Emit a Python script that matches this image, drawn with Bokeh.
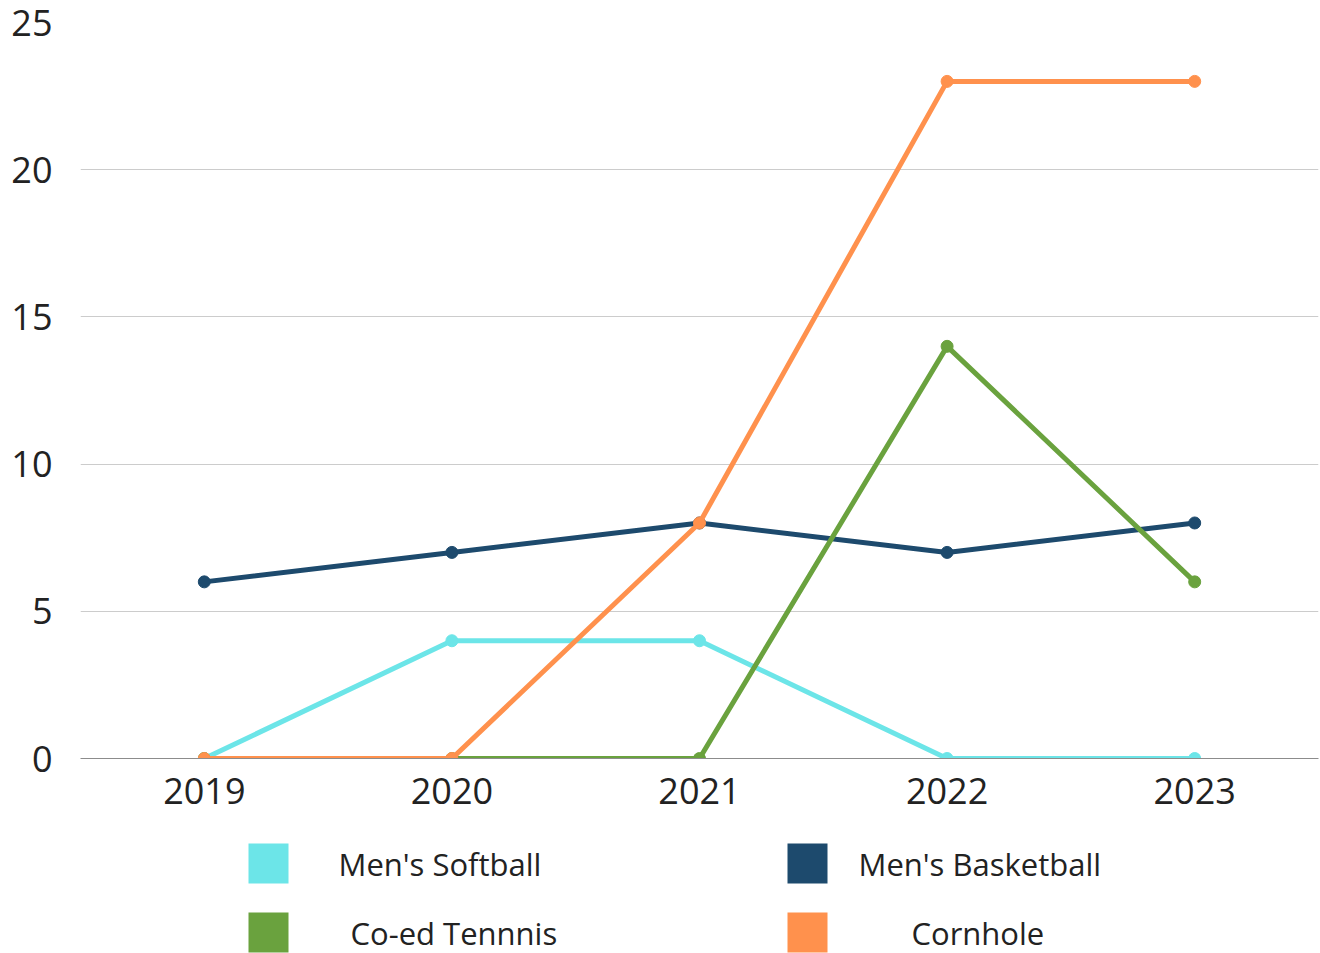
from bokeh.plotting import figure
from bokeh.models import Range1d, FixedTicker
from bokeh.layouts import column
from bokeh.embed import file_html
from bokeh.resources import INLINE
from bokeh.core.properties import value

years = [2019, 2020, 2021, 2022, 2023]
series_names = ["Men's Softball", "Men's Basketball", "Co-ed Tennnis", "Cornhole"]
softball = [0, 4, 4, 0, 0]
basketball = [6, 7, 8, 7, 8]
tennis = [0, 0, 0, 14, 6]
cornhole = [0, 0, 8, 23, 23]
y_ticks = [0, 5, 10, 15, 20, 25]

colors = ["#6CE5E8", "#1D4A6D", "#6AA23E", "#FF914D"]
series = [softball, basketball, tennis, cornhole]

FONT = "Open Sans"

p = figure(width=1320, height=823, output_backend="svg", toolbar_location=None,
           x_range=Range1d(2018.5, 2023.5), y_range=Range1d(0, 25),
           min_border_left=80, min_border_right=2, min_border_top=22, min_border_bottom=65)
p.outline_line_color = None
p.background_fill_color = "white"

for ys, c in zip(series, colors):
    p.line(years, ys, line_color=c, line_width=5)
    p.scatter(years, ys, size=12, fill_color=c, line_color=c)

p.xgrid.grid_line_color = None
p.ygrid.grid_line_color = "#cccccc"
p.ygrid.grid_line_width = 1
p.ygrid.ticker = FixedTicker(ticks=y_ticks)

p.xaxis.ticker = FixedTicker(ticks=years)
p.xaxis.axis_line_color = "#8c8c8c"
p.xaxis.axis_line_width = 1
p.xaxis.major_tick_line_color = None
p.xaxis.minor_tick_line_color = None
p.xaxis.major_label_text_font = FONT
p.xaxis.major_label_text_font_size = "36px"
p.xaxis.major_label_text_color = "#222222"
p.xaxis.major_label_standoff = 13

p.yaxis.ticker = FixedTicker(ticks=y_ticks)
p.yaxis.axis_line_color = None
p.yaxis.major_tick_line_color = None
p.yaxis.minor_tick_line_color = None
p.yaxis.major_label_text_font = FONT
p.yaxis.major_label_text_font_size = "36px"
p.yaxis.major_label_text_color = "#222222"
p.yaxis.major_label_standoff = 22

# Legend panel (coordinates in page pixels; frame aligned with main frame)
leg = figure(width=1320, height=130, output_backend="svg", toolbar_location=None,
             x_range=Range1d(80, 1318), y_range=Range1d(953, 823),
             min_border_left=80, min_border_right=2, min_border_top=0, min_border_bottom=0)
leg.axis.visible = False
leg.grid.visible = False
leg.outline_line_color = None

box_x = [268, 807, 268, 807]
box_y = [863, 863, 932, 932]
text_x = [338, 858, 350, 911]

leg.rect(box_x, box_y, width=40, height=40, fill_color=colors, line_color=None)
leg.text(text_x, box_y, text=series_names, text_font=value(FONT), text_font_size="31px",
         text_align="left", text_baseline="middle", text_color="#222222")

layout = column(p, leg, spacing=0)
open("out.html", "w").write(file_html(layout, INLINE))
